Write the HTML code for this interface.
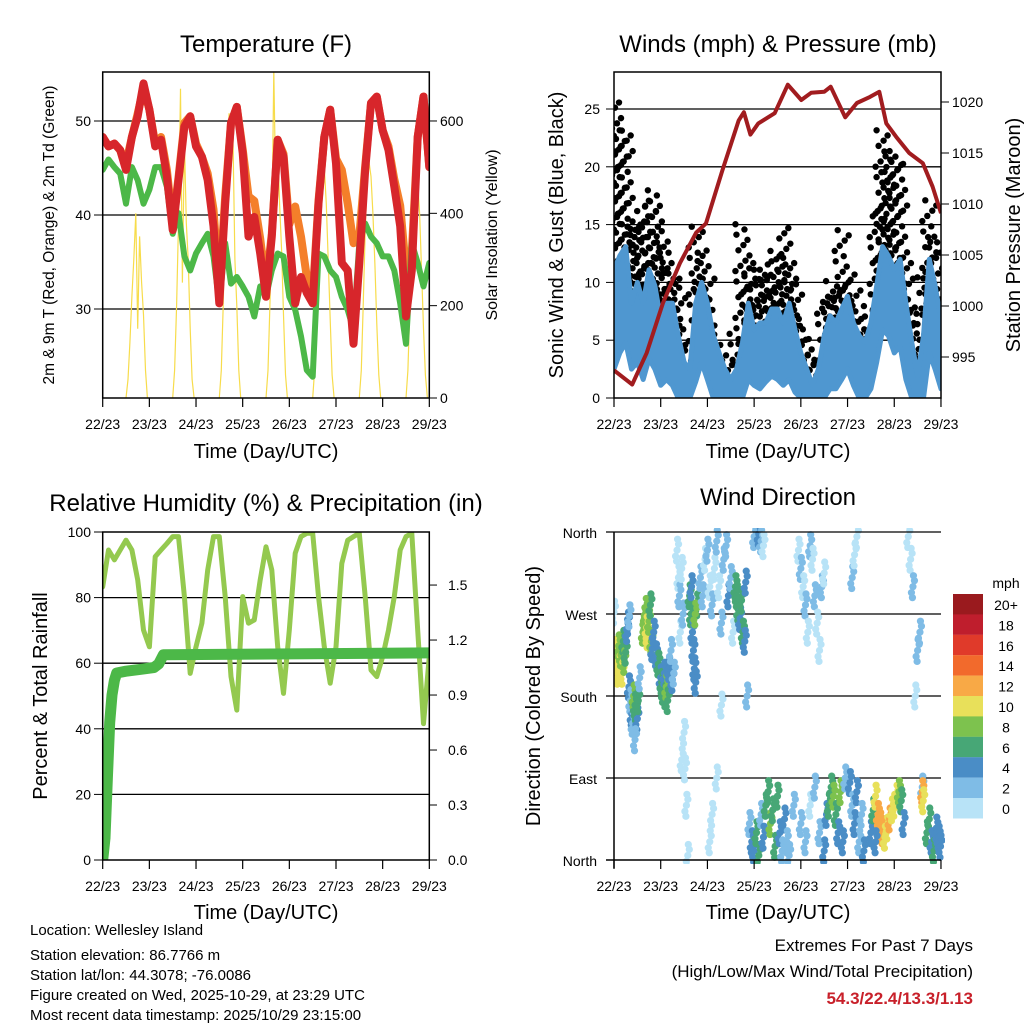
<!DOCTYPE html>
<html><head><meta charset="utf-8"><style>
html,body{margin:0;padding:0;background:#fff;}
svg{display:block;font-family:"Liberation Sans",Arial,sans-serif;}
</style></head><body>
<svg id="fig" width="1024" height="1024" viewBox="0 0 1024 1024">
<defs>
<clipPath id="c1"><rect x="102.7" y="72" width="326.6" height="326"/></clipPath>
<clipPath id="c2"><rect x="614" y="72" width="327" height="326"/></clipPath>
<clipPath id="c3"><rect x="102.7" y="532" width="326.6" height="328"/></clipPath>
<clipPath id="c4"><rect x="614" y="528" width="331" height="336"/></clipPath>
</defs>
<rect width="1024" height="1024" fill="#fff"/>
<text x="266" y="52" font-size="24" text-anchor="middle">Temperature (F)</text>
<text x="778" y="52" font-size="24" text-anchor="middle">Winds (mph) &amp; Pressure (mb)</text>
<text x="266" y="511" font-size="24" text-anchor="middle">Relative Humidity (%) &amp; Precipitation (in)</text>
<text x="778" y="505" font-size="24" text-anchor="middle">Wind Direction</text>
<text transform="translate(54,235) rotate(-90)" font-size="15.5" text-anchor="middle">2m &amp; 9m T (Red, Orange) &amp; 2m Td (Green)</text>
<text transform="translate(497,235) rotate(-90)" font-size="16" text-anchor="middle">Solar Insolation (Yellow)</text>
<text transform="translate(563,235) rotate(-90)" font-size="20" text-anchor="middle">Sonic Wind &amp; Gust (Blue, Black)</text>
<text transform="translate(1020,235) rotate(-90)" font-size="20" text-anchor="middle">Station Pressure (Maroon)</text>
<text transform="translate(47,696) rotate(-90)" font-size="20" text-anchor="middle">Percent &amp; Total Rainfall</text>
<text transform="translate(540,696) rotate(-90)" font-size="20" text-anchor="middle">Direction (Colored By Speed)</text>
<text x="266" y="458" font-size="20" text-anchor="middle">Time (Day/UTC)</text>
<text x="778" y="458" font-size="20" text-anchor="middle">Time (Day/UTC)</text>
<text x="266" y="919" font-size="20" text-anchor="middle">Time (Day/UTC)</text>
<text x="778" y="919" font-size="20" text-anchor="middle">Time (Day/UTC)</text>
<g font-size="15">
<text x="30" y="935">Location: Wellesley Island</text>
<text x="30" y="960">Station elevation: 86.7766 m</text>
<text x="30" y="980">Station lat/lon: 44.3078; -76.0086</text>
<text x="30" y="1000">Figure created on Wed, 2025-10-29, at 23:29 UTC</text>
<text x="30" y="1020">Most recent data timestamp: 2025/10/29 23:15:00</text>
</g>
<g font-size="17" text-anchor="end">
<text x="973" y="951">Extremes For Past 7 Days</text>
<text x="973" y="977">(High/Low/Max Wind/Total Precipitation)</text>
<text x="973" y="1004" font-weight="bold" fill="#c8202a">54.3/22.4/13.3/1.13</text>
</g>
<g id="marks"></g>
</svg>
<script>
// ---------- data ----------
const dayLabels = ["22/23","23/23","24/23","25/23","26/23","27/23","28/23","29/23"];
// 3-hourly temperatures (F)
const tempRed = [48.3,47.3,47.6,46.9,44.8,48.3,50.5,54.0,51.2,47.3,48.0,44.1,38.4,43.7,49.4,50.5,47.3,46.2,43.7,38.8,30.6,41.2,49.8,51.5,46.6,37.7,39.8,35.9,31.3,37.7,48.0,46.2,37.7,30.6,33.4,31.7,30.6,41.2,48.3,51.2,45.5,34.9,34.1,26.3,34.9,44.8,51.9,52.6,49.0,46.9,43.0,38.8,29.2,34.1,48.3,52.6,45.1];
const tempOrange = [48.3,47.3,47.6,46.9,45.5,48.3,50.8,53.5,51.2,47.6,48.3,44.8,39.0,44.0,49.8,50.5,47.6,46.2,44.4,40.6,32.0,42.0,49.8,51.5,47.0,42.0,41.5,37.5,32.5,38.0,48.0,46.5,39.0,40.9,37.7,33.4,31.5,41.5,48.3,51.2,46.0,44.8,41.2,37.0,37.7,45.2,51.9,52.6,49.0,47.3,43.8,41.0,34.1,36.0,48.3,52.6,45.1];
const tempDew = [44.8,45.9,45.1,44.4,41.2,45.1,43.7,41.2,42.7,45.1,45.1,43.0,38.0,40.2,35.6,34.1,35.9,37.0,38.0,35.6,30.6,37.0,32.7,33.4,32.4,31.3,29.2,32.4,31.3,34.1,35.9,35.6,31.3,29.9,27.1,23.5,22.8,35.9,35.6,34.1,33.4,31.3,29.9,27.8,37.0,39.1,37.7,37.0,35.6,35.6,34.1,30.6,26.3,37.0,34.9,32.4,34.9];
// hourly solar insolation for hours 12..23 of each day
const solarHours = [12,13,14,15,16,17,18,19,20,21,22,23];
const solarDay0 = [0,40,120,220,300,400,150,350,250,180,60,0];
const solarDay1 = [0,60,200,380,670,250,560,380,300,150,40,0];
const solarDay2 = [0,60,200,400,520,617,500,560,300,200,60,0];
const solarDay3 = [0,60,200,350,710,450,550,420,320,180,50,0];
const solarDay4 = [0,60,200,360,480,531,500,420,300,170,50,0];
const solarDay5 = [0,60,200,360,470,510,480,400,290,160,50,0];
const solarDay6 = [0,60,200,350,460,500,470,400,280,150,50,0];
// 3-hourly wind (mph)
const windHigh = [11.1,12.3,13.1,8.2,10.0,8.2,11.1,9.7,6.8,8.2,8.2,5.4,3.1,2.5,8.2,10.0,8.2,5.4,3.9,2.5,1.6,2.5,4.8,8.2,5.9,6.5,6.5,7.7,7.7,6.5,8.2,5.9,3.9,2.5,1.1,2.5,5.4,7.1,6.5,7.7,8.8,6.5,5.4,4.8,6.5,9.7,13.1,12.3,11.1,12.0,8.2,4.8,1.9,5.4,12.0,9.7,6.8];
const windLow = [2.5,3.9,4.8,2.5,3.1,1.6,3.4,2.5,1.1,1.6,1.1,0,0,0,1.4,3.1,1.6,0,0,0,0,0,0,1.6,1.1,0.8,1.4,1.9,1.6,1.1,1.6,0.5,0,0,0,0,0,0.8,0.8,1.6,2.5,1.1,0,0,0.8,3.1,5.9,5.4,3.9,4.5,1.6,0,0,0,3.9,2.5,0.8];
const gustMax = [26.3,23.2,23.5,15.4,15.1,16.9,17.2,18.3,14.6,13.4,11.1,9.7,4.2,3.1,14.9,12.9,10.6,5.9,4.2,3.1,2.5,5.9,15.1,11.7,10.6,11.1,11.7,10.6,12.9,14.9,12.3,10.0,7.1,5.4,3.1,3.6,8.8,10.2,9.7,14.6,11.1,9.4,7.1,5.9,8.2,16.9,23.5,21.5,20.9,20.4,12.3,8.2,3.6,11.1,17.5,14.0,8.2];
// pressure (mb)
const presTime = [0,0.39,0.70,1.05,1.41,1.76,1.97,2.32,2.67,2.78,2.92,3.09,3.44,3.72,4.01,4.22,4.50,4.64,4.95,5.20,5.48,5.68,5.83,6.04,6.32,6.61,6.82,7.0];
const presVal = [993.7,992.3,995.4,1000.3,1004.2,1007.2,1008.1,1013.3,1018.2,1019.0,1016.8,1017.9,1018.9,1021.7,1020.2,1020.9,1021.0,1021.5,1018.5,1019.9,1020.5,1021.0,1017.9,1016.6,1015.0,1014.0,1011.7,1009.1];
// relative humidity 3-hourly (%)
const rhVal = [83.3,94.5,91.5,94.5,97.5,94.5,85.4,70.1,65.0,92.5,94.5,96.5,98.6,98.6,80.3,56.9,65.0,72.2,88.4,98.6,98.6,80.3,55.9,45.7,80.3,72.2,73.2,85.4,95.5,88.4,65.0,50.8,70.1,93.5,98.6,99.6,99.6,80.3,65.0,53.9,65.0,90.4,97.5,98.6,99.6,80.3,57.9,55.9,62.0,70.1,80.3,94.5,98.6,99.6,70.1,41.6,62.0];
// cumulative precipitation (in)
const precipTime = [0,0.05,0.1,0.15,0.2,0.25,0.3,0.5,0.8,1.1,1.2,1.3,7.0];
const precipVal = [0,0.12,0.45,0.75,0.9,0.98,1.02,1.03,1.04,1.05,1.07,1.12,1.13];
// wind direction observations
const dirTime = [0.02,0.04,0.06,0.08,0.10,0.12,0.15,0.18,0.2,0.22,0.25,0.28,0.0,
0.32,0.35,0.38,0.40,0.42,0.45,0.47,0.5,0.52,0.55,0.3,0.33,0.45,
0.62,0.65,0.68,0.7,0.72,0.75,0.78,0.8,0.82,0.85,0.9,
0.95,1.0,1.02,1.05,1.08,1.1,1.12,1.15,1.18,1.22,1.25,1.28,
1.35,1.38,1.4,1.42,1.45,1.48,1.5,1.52,1.55,1.58,1.45,
1.62,1.65,1.68,1.7,1.72,1.75,1.78,1.66,1.74,
1.85,1.9,1.95,2.0,2.05,2.1,2.15,2.2,2.25,2.3,2.35,2.4,2.45,2.5,2.55,2.3,2.2,2.1,2.05,
2.6,2.63,2.66,2.7,2.73,2.76,2.8,2.82,2.85,
2.9,2.95,3.0,3.05,3.1,3.15,3.2,3.25,3.3,3.35,3.4,3.45,3.5,3.55,3.6,3.65,3.7,3.75,3.85,3.0,3.1,3.15,3.2,
3.95,4.0,4.05,4.1,4.15,4.2,4.25,4.3,4.35,4.4,4.45,4.5,4.0,4.1,4.2,4.3,4.4,4.5,4.55,
4.6,4.65,4.7,4.75,4.8,4.85,4.9,4.95,
5.05,5.1,5.15,5.2,5.25,5.3,5.35,5.1,5.15,5.2,
5.5,5.55,5.6,5.65,5.7,5.75,5.8,5.85,5.9,5.95,6.0,6.05,6.1,6.15,6.2,5.6,
6.3,6.35,6.4,6.45,6.5,6.55,6.6,6.6,6.62,
6.7,6.75,6.8,6.85,6.9,6.95,6.99];
const dirDeg = [230,215,222,205,235,212,225,205,240,218,228,252,272,
190,175,160,150,180,170,165,155,175,200,260,268,132,
250,265,275,255,245,262,280,240,232,250,225,
215,200,195,185,205,180,190,175,210,230,198,205,
340,310,290,250,320,270,140,100,60,5,110,
290,270,250,230,210,195,280,300,270,
310,290,330,340,300,280,320,350,300,260,330,345,290,310,250,170,90,50,20,
300,290,275,265,285,250,240,305,180,
40,20,10,30,5,50,25,60,75,40,55,15,70,30,10,45,20,5,60,355,358,350,345,
340,320,300,280,250,345,330,290,260,230,300,315,40,20,60,80,30,10,50,
60,80,70,50,30,75,20,90,
85,60,40,75,20,50,10,310,335,355,
30,55,70,50,40,30,25,35,45,55,60,70,75,65,40,20,
355,330,300,180,230,250,80,75,65,
30,45,20,10,35,25,15];
const dirSpeed = [11,12,10,11,9,10,8,10,7,9,6,4,1,
4,3,4,3,8,7,6,5,6,3,4,3,3,
9,8,8,10,10,9,7,8,5,4,4,
6,5,7,6,4,6,8,7,4,3,5,3,
1,1,2,1,0,2,0,1,0,1,1,
6,6,5,4,5,4,7,5,8,
2,3,1,2,1,3,1,2,1,2,3,2,4,2,1,1,1,0,1,
6,7,6,5,7,6,5,4,3,
3,4,5,6,6,3,5,7,6,8,7,6,6,4,3,4,2,3,2,3,4,2,1,
1,2,1,2,1,3,1,2,1,1,2,1,3,2,1,3,3,4,5,
6,7,8,6,5,8,5,3,
4,3,5,4,3,2,4,2,1,1,
4,6,10,12,13,12,10,11,12,10,11,10,8,6,4,5,
1,1,2,1,2,3,2,12,10,
6,7,5,6,4,5,4];
const speedColors = ["#b8e3f7","#7fbce6","#4a8dc6","#47a776","#7dc24e","#e8e05a","#f8a946","#f26a2c","#e03a2a","#bf1e2d","#9a1a1e"];
const speedLabels = ["0","2","4","6","8","10","12","14","16","18","20+"];

// ---------- scales ----------
const X1 = d => 102.7 + d*46.66;
const X2 = d => 614 + d*46.71;
const Ty = t => 121 + (50 - t)*9.4;
const Sy = s => 398 - s*0.4617;
const Wy = w => 398 - w*11.56;
const Py = p => 357 - (p - 995)*10.2;
const Ry = r => 860 - r*3.28;
const PRy = v => 860 - v*183.3;
const Dy = d => 860 - d*0.9111;

const NS = "http://www.w3.org/2000/svg";
const root = document.getElementById('marks');
function mk(tag, attrs, parent){
  const e = document.createElementNS(NS, tag);
  for (const k in attrs) e.setAttribute(k, attrs[k]);
  (parent||root).appendChild(e);
  return e;
}
function grp(clip){ return mk('g', clip?{'clip-path':'url(#'+clip+')'}:{}); }
function pts(xs, ys){ return xs.map((x,i)=>x.toFixed(1)+','+ys[i].toFixed(1)).join(' '); }
const idxDays = tempRed.map((_,i)=>i/8);

function hline(y,x1,x2,parent){
  const l = mk('line',{x1:x1,x2:x2,y1:y,y2:y,stroke:'#000','stroke-width':1.3},parent);
  
  
}
function txt(x,y,s,anchor,size,parent){
  const t = mk('text',{x:x,y:y,'font-size':size||14,'text-anchor':anchor||'middle'},parent);
  t.textContent = s;
  return t;
}
function xAxis(X, y0){
  const g = mk('g',{});
  
  
  dayLabels.forEach((lab,i)=>{
    mk('line',{x1:X(i),x2:X(i),y1:y0,y2:y0+9,stroke:'#000','stroke-width':1.2},g);
    const t = txt(X(i), y0+31, lab, 'middle', 14, g);
    
    
  });
}
function box(x,y,w,h,name){
  const r = mk('rect',{x:x,y:y,width:w,height:h,fill:'none',stroke:'#000','stroke-width':1.5});
  
  
}

// ---------- Panel 1: temperature ----------
(function(){
  const g = grp('c1');
  
  
  [30,40,50].forEach(v=>hline(Ty(v),102.7,429.3,g));
  const solar = [solarDay0,solarDay1,solarDay2,solarDay3,solarDay4,solarDay5,solarDay6];
  solar.forEach((arr,d)=>{
    const xs = solarHours.map(h=>X1(d + h/24));
    const ys = arr.map(Sy);
    const p = mk('polyline',{points:pts(xs,ys),fill:'none',stroke:'#f7dc4b','stroke-width':1.2},g);
    
    
  });
  const o = mk('polyline',{points:pts(idxDays.map(X1),tempOrange.map(Ty)),fill:'none',stroke:'#f47f2a','stroke-width':8,'stroke-linejoin':'round','stroke-linecap':'round'},g);
  
  
  const dw = mk('polyline',{points:pts(idxDays.map(X1),tempDew.map(Ty)),fill:'none',stroke:'#4cb848','stroke-width':6,'stroke-linejoin':'round','stroke-linecap':'round'},g);
  
  
  const r = mk('polyline',{points:pts(idxDays.map(X1),tempRed.map(Ty)),fill:'none',stroke:'#d7262b','stroke-width':8,'stroke-linejoin':'round','stroke-linecap':'round'},g);
  
  
  box(102.7,72,326.6,326,'temperature-frame');
  xAxis(X1,398);
  [30,40,50].forEach(v=>{
    mk('line',{x1:94,x2:102.7,y1:Ty(v),y2:Ty(v),stroke:'#000'});
    const t = txt(91,Ty(v)+5,String(v),'end',14);
    
    
  });
  [0,200,400,600].forEach(v=>{
    mk('line',{x1:429.3,x2:437,y1:Sy(v),y2:Sy(v),stroke:'#000'});
    const t = txt(440,Sy(v)+5,String(v),'start',14);
    
    
  });
})();

// ---------- Panel 2: winds & pressure ----------
(function(){
  const g = grp('c2');
  
  
  [5,10,15,20,25].forEach(v=>hline(Wy(v),614,941,g));
  const days = windHigh.map((_,i)=>i/8);
  gustMax.forEach((gm,i)=>{
    const lo = windHigh[i]*0.6;
    for(let v=lo, k=0; v<=gm+0.01; v+=0.45, k++){
      const off = [-7,-2,3,7,-4,1,5,-6,2][k%9];
      const c = mk('circle',{cx:X2(days[i])+off,cy:Wy(v),r:3.2,fill:'#000'},g);
      
      
    }
  });
  const poly = pts(days.map(X2),windHigh.map(Wy)) + ' ' + pts(days.slice().reverse().map(X2),windLow.slice().reverse().map(Wy));
  const b = mk('polygon',{points:poly,fill:'#4f97d0',stroke:'#4f97d0','stroke-width':5,'stroke-linejoin':'round'},g);
  
  
  const p = mk('polyline',{points:pts(presTime.map(X2),presVal.map(Py)),fill:'none',stroke:'#a11c1f','stroke-width':4,'stroke-linejoin':'round'},g);
  
  
  box(614,72,327,326,'winds-frame');
  xAxis(X2,398);
  [0,5,10,15,20,25].forEach(v=>{
    mk('line',{x1:606,x2:614,y1:Wy(v),y2:Wy(v),stroke:'#000'});
    const t = txt(600,Wy(v)+5,String(v),'end',14);
    
    
  });
  [995,1000,1005,1010,1015,1020].forEach(v=>{
    mk('line',{x1:941,x2:949,y1:Py(v),y2:Py(v),stroke:'#000'});
    const t = txt(952,Py(v)+5,String(v),'start',14);
    
    
  });
})();

// ---------- Panel 3: humidity & precipitation ----------
(function(){
  const g = grp('c3');
  
  
  [20,40,60,80].forEach(v=>hline(Ry(v),102.7,429.3,g));
  const days = rhVal.map((_,i)=>i/8);
  const h = mk('polyline',{points:pts(days.map(X1),rhVal.map(Ry)),fill:'none',stroke:'#94c94f','stroke-width':5,'stroke-linejoin':'round','stroke-linecap':'round'},g);
  
  
  const pr = mk('polyline',{points:pts(precipTime.map(X1),precipVal.map(PRy)),fill:'none',stroke:'#4cb848','stroke-width':11,'stroke-linejoin':'round','stroke-linecap':'round'},g);
  
  
  box(102.7,532,326.6,328,'humidity-frame');
  xAxis(X1,860);
  [0,20,40,60,80,100].forEach(v=>{
    mk('line',{x1:94,x2:102.7,y1:Ry(v),y2:Ry(v),stroke:'#000'});
    const t = txt(91,Ry(v)+5,String(v),'end',14);
    
    
  });
  [0,0.3,0.6,0.9,1.2,1.5].forEach(v=>{
    mk('line',{x1:429.3,x2:437,y1:PRy(v),y2:PRy(v),stroke:'#000'});
    const t = txt(448,PRy(v)+5,v.toFixed(1),'start',14);
    
    
  });
})();

// ---------- Panel 4: wind direction ----------
(function(){
  [90,180,270].forEach(v=>hline(Dy(v),606,941,root));
  const g = grp('c4');
  
  
  const spreadY = [0,-6,6,-11,11];
  const spreadX = [0,1.5,-1.5,0.5,-0.5];
  dirTime.forEach((t,i)=>{
    const ci = Math.min(10, Math.floor(dirSpeed[i]/2));
    spreadY.forEach((dy,k)=>{
      const c = mk('circle',{cx:X2(t)+spreadX[k],cy:Dy(dirDeg[i])+dy,r:3.6,fill:speedColors[ci]},g);
      
      
    });
  });
  mk('line',{x1:606,x2:941,y1:532,y2:532,stroke:'#000','stroke-width':1.3});
  mk('line',{x1:606,x2:941,y1:860,y2:860,stroke:'#000','stroke-width':1.5});
  mk('line',{x1:614,x2:614,y1:532,y2:868,stroke:'#000','stroke-width':1.5});
  xAxis(X2,860);
  const names = ["North","East","South","West","North"];
  [0,90,180,270,360].forEach((v,i)=>{
    const t = txt(597,Dy(v)+6,names[i],'end',14);
    
    
  });
  const lg = mk('g',{});
  
  
  txt(1006,588,'mph','middle',14,lg);
  speedColors.slice().reverse().forEach((c,k)=>{
    const y = 594 + k*20.4;
    const r = mk('rect',{x:953,y:y,width:30,height:20.5,fill:c},lg);
    
    
    const t = txt(1006,y+16,speedLabels[10-k],'middle',14,lg);
    
    
  });
})();
</script>
</body></html>
